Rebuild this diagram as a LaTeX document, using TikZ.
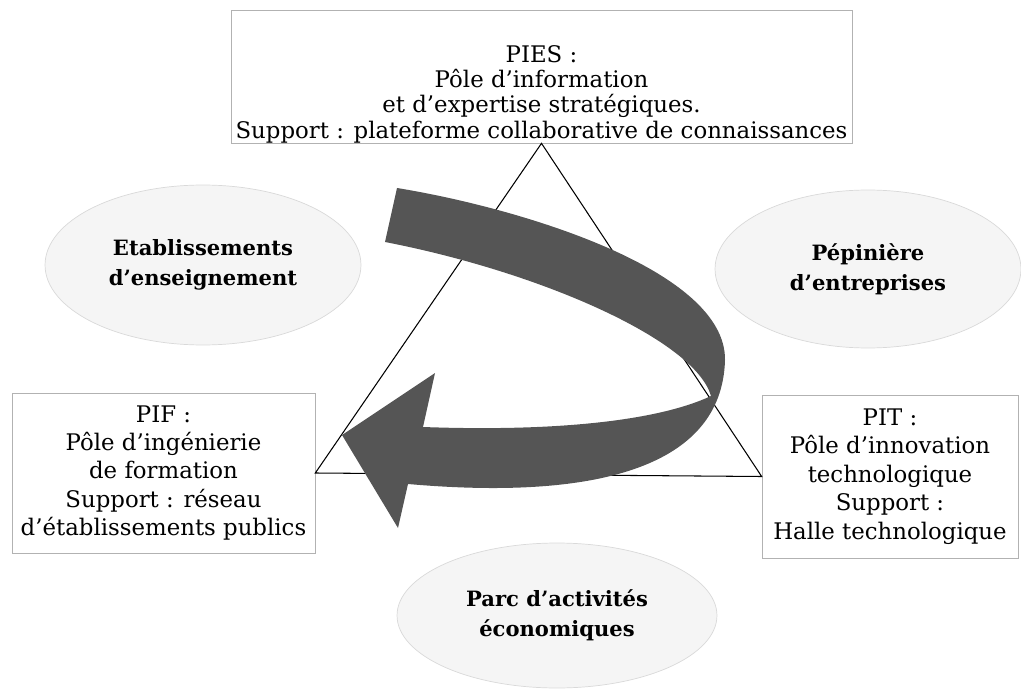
\documentclass[tikz,border=0pt]{standalone}
\usepackage{fontspec}
\setmainfont{DejaVu Serif}
\usetikzlibrary{shapes.geometric}
\definecolor{ribbon}{RGB}{85,85,85}
\tikzset{
  pole/.style={draw=gray!60, fill=white, align=center, inner sep=0pt,
    font=\fontsize{13}{16.2}\selectfont},
  zone/.style={ellipse, draw=gray!30, fill=gray!8, align=center, inner sep=0pt,
    font=\fontsize{12}{17}\selectfont\bfseries},
}
\begin{document}
\begin{tikzpicture}[x=0.02cm,y=-0.02cm]
\useasboundingbox (0,0) rectangle (1021,689);
\node[pole, anchor=north, minimum width=12.42cm, font=\fontsize{13}{14.4}\selectfont] (pies) at (541.5,10)
  {\rule{0pt}{1.04cm}PIES :\\Pôle d’information\\et d’expertise stratégiques.\\Support : plateforme collaborative de connaissances};
\node[pole, minimum width=6.06cm, minimum height=3.2cm] (pif) at (163.5,473)
  {PIF :\\Pôle d’ingénierie\\de formation\\Support : réseau\\d’établissements publics};
\node[pole, minimum width=5.12cm, minimum height=3.26cm] (pit) at (890,476.5)
  {PIT :\\Pôle d’innovation\\technologique\\Support :\\Halle technologique};
\node[zone, minimum width=6.32cm, minimum height=3.2cm] (ecoles) at (203,265) {Etablissements\\d’enseignement};
\node[zone, minimum width=6.12cm, minimum height=3.16cm] (pepiniere) at (868,269) {Pépinière\\d’entreprises};
\node[zone, minimum width=6.4cm, minimum height=2.9cm] (parc) at (557,615.5) {Parc d’activités\\économiques};
\draw[line width=0.6pt] (pies.south) -- (pif.east) -- (pit.west) -- cycle;
\fill[ribbon] (397,188) .. controls (520,208) and (726,270) .. (725,360)
  .. controls (722,470) and (590,500) .. (408,484)
  -- (398,528) -- (342,435) -- (435,373) -- (423,427)
  .. controls (560,432) and (660,420) .. (711,396)
  .. controls (695,340) and (540,272) .. (385,242) -- cycle;
\end{tikzpicture}
\end{document}
